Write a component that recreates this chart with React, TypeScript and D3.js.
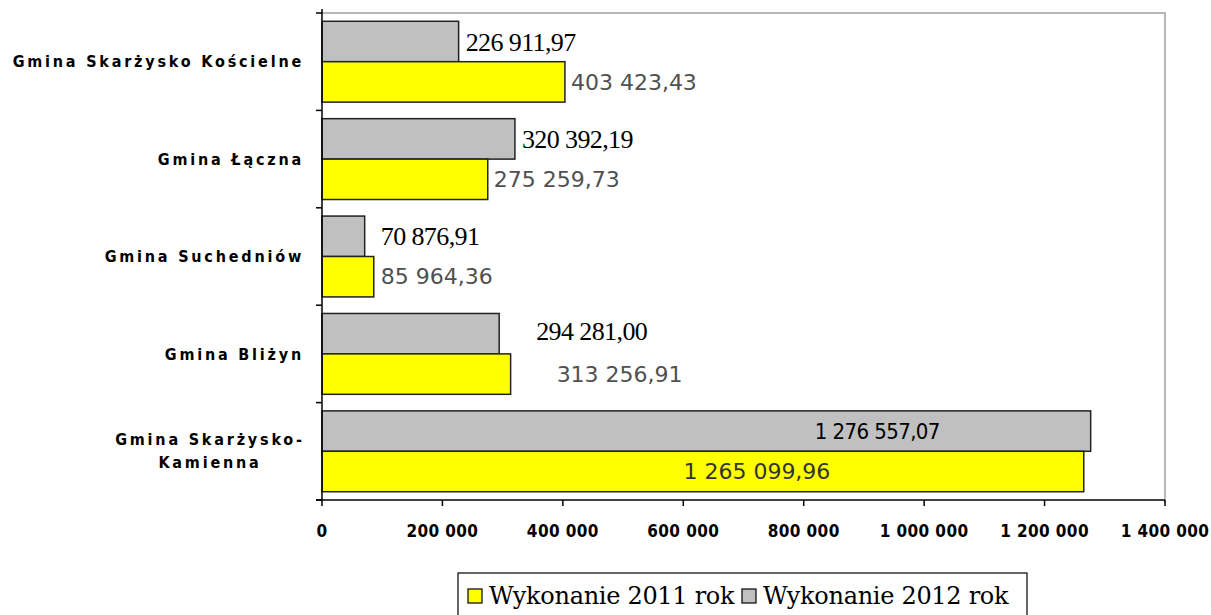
import React from "react";
import * as d3 from "d3";

const categories = [
  "Gmina Skarżysko Kościelne",
  "Gmina Łączna",
  "Gmina Suchedniów",
  "Gmina Bliżyn",
  "Gmina Skarżysko-Kamienna",
];
const values2011 = [403423.43, 275259.73, 85964.36, 313256.91, 1265099.96];
const values2012 = [226911.97, 320392.19, 70876.91, 294281.0, 1276557.07];
const seriesNames = ["Wykonanie 2011 rok", "Wykonanie 2012 rok"];
const xTicks = [0, 200000, 400000, 600000, 800000, 1000000, 1200000, 1400000];

const W = 1211;
const H = 615;
const left = 322;
const right = 1165;
const top = 13;
const bottom = 500;

const fmtNum = (v: number) => {
  const [i, f] = v.toFixed(2).split(".");
  return i.replace(/\B(?=(\d{3})+(?!\d))/g, " ") + "," + f;
};
const fmtTick = (v: number) => String(v).replace(/\B(?=(\d{3})+(?!\d))/g, " ");

export default function App() {
  const x = d3.scaleLinear().domain([0, 1400000]).range([left, right]);
  const y = d3
    .scaleBand<string>()
    .domain(categories)
    .range([top, bottom])
    .paddingInner(0.17)
    .paddingOuter(0.085);
  const sub = d3.scaleBand<string>().domain(["2012", "2011"]).range([0, y.bandwidth()]);
  const bh = sub.bandwidth();

  const condFont = "'DejaVu Sans Condensed', 'DejaVu Sans', sans-serif";
  const sansFont = "'DejaVu Sans', sans-serif";

  return (
    <svg
      width={W}
      height={H}
      style={{ position: "absolute", left: 0, top: 0, background: "#fff" }}
    >
      {/* plot border top & right */}
      <path d={`M${left},${top}H${right}V${bottom + 3}`} fill="none" stroke="#a0a0a0" strokeWidth={1.5} />

      {categories.map((c, i) => {
        const y0 = y(c)!;
        const g2012 = y0 + sub("2012")!;
        const g2011 = y0 + sub("2011")!;
        const e12 = x(values2012[i]);
        const e11 = x(values2011[i]);
        let lx12 = e12 + 7;
        let lx11 = e11 + 6;
        let a12: "start" | "middle" = "start";
        let a11: "start" | "middle" = "start";
        let dy12 = 0;
        if (i === 2) {
          const m = Math.max(e12, e11) + 7;
          lx12 = m;
          lx11 = m;
        } else if (i === 3) {
          lx12 = e12 + 37;
          lx11 = e11 + 46;
          dy12 = -3;
        } else if (i === 4) {
          lx12 = (x(0) + e12) / 2 + 171;
          a12 = "middle";
          lx11 = (x(0) + e11) / 2 + 54;
          a11 = "middle";
        }
        return (
          <g key={c}>
            <rect x={x(0)} y={g2012} width={e12 - x(0)} height={bh} fill="#c0c0c0" stroke="#222" strokeWidth={1.5} />
            <rect x={x(0)} y={g2011} width={e11 - x(0)} height={bh} fill="#ffff00" stroke="#222" strokeWidth={1.5} />
            <text
              x={lx12}
              y={g2012 + bh / 2 + dy12}
              dy="0.35em"
              textAnchor={a12}
              fontFamily={i === 4 ? condFont : "'Liberation Serif', serif"}
              fontSize={i === 4 ? 22 : 26}
              fill="#000"
              style={{ letterSpacing: i === 4 ? "-0.6px" : "-0.6px" }}
            >
              {fmtNum(values2012[i])}
            </text>
            <text
              x={lx11}
              y={g2011 + bh / 2}
              dy="0.35em"
              textAnchor={a11}
              fontFamily={sansFont}
              fontSize={22}
              fill={i === 4 ? "#333" : "#505050"}
            >
              {fmtNum(values2011[i])}
            </text>
          </g>
        );
      })}

      {/* left axis */}
      <line x1={left} y1={top - 4} x2={left} y2={bottom} stroke="#000" strokeWidth={1.5} />
      {d3.range(categories.length + 1).map((k) => {
        const yy = k === categories.length ? bottom : y(categories[k])! - (y.step() * y.paddingInner()) / 2;
        return <line key={k} x1={left - 6} x2={left} y1={yy} y2={yy} stroke="#000" strokeWidth={1.5} />;
      })}
      {/* category labels */}
      {categories.map((c) => {
        const cy = y(c)! + y.bandwidth() / 2;
        const parts = c === "Gmina Skarżysko-Kamienna" ? ["Gmina Skarżysko-", "Kamienna"] : [c];
        const anchorX = parts.length > 1 ? 210 : 304;
        return (
          <text
            key={c}
            x={anchorX}
            y={cy - ((parts.length - 1) * 23) / 2}
            textAnchor={parts.length > 1 ? "middle" : "end"}
            fontFamily={condFont}
            fontWeight="bold"
            fontSize={16}
            fill="#000"
            style={{ letterSpacing: "2.8px" }}
          >
            {parts.map((p, j) => (
              <tspan key={j} x={anchorX} dy={j === 0 ? "0.35em" : 23}>
                {p}
              </tspan>
            ))}
          </text>
        );
      })}

      {/* bottom axis */}
      <line x1={left - 6} y1={bottom} x2={right} y2={bottom} stroke="#000" strokeWidth={1.5} />
      {xTicks.map((t) => (
        <g key={t}>
          <line x1={x(t)} x2={x(t)} y1={bottom} y2={bottom + 6} stroke="#000" strokeWidth={1.5} />
          <text
            x={x(t)}
            y={531}
            dy="0.35em"
            textAnchor="middle"
            fontFamily={condFont}
            fontWeight="bold"
            fontSize={17}
            fill="#000"
            style={{ letterSpacing: "0.4px" }}
          >
            {fmtTick(t)}
          </text>
        </g>
      ))}

      {/* legend */}
      <rect x={458} y={573} width={569} height={50} fill="#fff" stroke="#000" strokeWidth={1.2} />
      {seriesNames.map((s, k) => {
        const lx = k === 0 ? 468 : 742;
        return (
          <g key={s}>
            <rect x={lx} y={589} width={14} height={14} fill={k === 0 ? "#ffff00" : "#c0c0c0"} stroke="#000" strokeWidth={1.2} />
            <text x={lx + 21} y={596} dy="0.35em" fontFamily="'DejaVu Serif', serif" fontSize={24} fill="#000" style={{ letterSpacing: "-0.3px" }}>
              {s}
            </text>
          </g>
        );
      })}
    </svg>
  );
}
